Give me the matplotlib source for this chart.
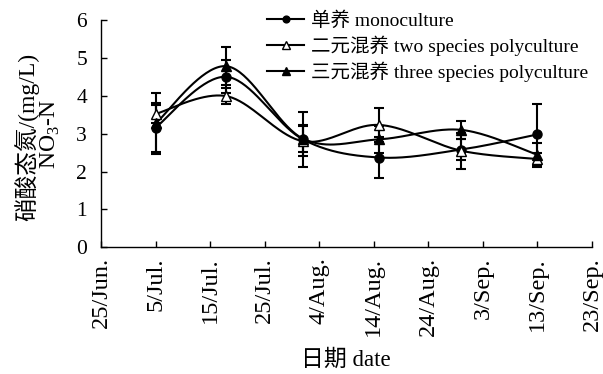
import numpy as np
import matplotlib
matplotlib.use("Agg")
import matplotlib.pyplot as plt
from matplotlib.lines import Line2D

plt.rcParams['font.family'] = ['Liberation Serif', 'Noto Sans CJK SC']
plt.rcParams['mathtext.fontset'] = 'custom'
plt.rcParams['mathtext.rm'] = 'Liberation Serif'

# days since 25 Jun
days = [10, 23, 37, 51, 66, 80]
tick_days = [0, 10, 20, 30, 40, 50, 60, 70, 80, 90]
tick_labels = ["25/Jun.", "5/Jul.", "15/Jul.", "25/Jul.", "4/Aug.", "14/Aug.",
               "24/Aug.", "3/Sep.", "13/Sep.", "23/Sep."]

mono = [3.16, 4.50, 2.85, 2.37, 2.58, 2.98]
mono_err = [0.65, 0.44, 0.73, 0.55, 0.27, 0.80]
two = [3.52, 3.99, 2.80, 3.23, 2.55, 2.33]
two_err = [0.23, 0.22, 0.40, 0.45, 0.48, 0.15]
three = [3.27, 4.78, 2.87, 2.85, 3.10, 2.44]
three_err = [0.80, 0.50, 0.36, 0.35, 0.24, 0.32]

labels = ["单养 monoculture", "二元混养 two species polyculture",
          "三元混养 three species polyculture"]


def smooth(x, y, n=40):
    x = np.asarray(x, float); y = np.asarray(y, float)
    px = np.concatenate([[x[0]], x, [x[-1]]])
    py = np.concatenate([[y[0]], y, [y[-1]]])
    xs, ys = [], []
    for i in range(1, len(px) - 2):
        p0, p1, p2, p3 = (np.array([px[j], py[j]]) for j in range(i - 1, i + 3))
        c1 = p1 + (p2 - p0) / 6
        c2 = p2 - (p3 - p1) / 6
        t = np.linspace(0, 1, n)[:, None]
        b = (1 - t) ** 3 * p1 + 3 * (1 - t) ** 2 * t * c1 + 3 * (1 - t) * t ** 2 * c2 + t ** 3 * p2
        xs.extend(b[:, 0]); ys.extend(b[:, 1])
    return xs, ys


W, H = 603, 374
fig = plt.figure(figsize=(W / 100, H / 100), dpi=100)
ax = fig.add_axes([101 / W, 1 - 247.3 / H, (592 - 101) / W, (247.3 - 20) / H])

styles = [
    (mono, mono_err, dict(marker='o', mfc='black', mec='black', ms=6.5)),
    (two, two_err, dict(marker='^', mfc='white', mec='black', ms=7.5)),
    (three, three_err, dict(marker='^', mfc='black', mec='black', ms=7.5)),
]
handles = []
for (vals, errs, mk), lab in zip(styles, labels):
    sx, sy = smooth(days, vals)
    ax.plot(sx, sy, color='black', lw=1.5, zorder=2)
    ax.errorbar(days, vals, yerr=errs, fmt='none', ecolor='black',
                elinewidth=1.5, capsize=3.5, capthick=1.5, zorder=3)
    ax.plot(days, vals, linestyle='none', color='black', zorder=4, **mk)
    mk2 = dict(mk)
    mk2['ms'] = mk['ms'] * 0.75
    handles.append(Line2D([0], [0], color='black', lw=1.5, label=lab, **mk2))

ax.set_xlim(0, 90)
ax.set_ylim(0, 6)
ax.set_xticks(tick_days)
ax.set_xticklabels(tick_labels, rotation=90, fontsize=17.5)
ax.set_yticks(range(0, 7))
ax.tick_params(axis='y', labelsize=15.5, direction='in', length=4, width=1, pad=10)
ax.tick_params(axis='x', direction='in', length=4, width=1, pad=7)
for s in ['top', 'right']:
    ax.spines[s].set_visible(False)
for s in ['left', 'bottom']:
    ax.spines[s].set_linewidth(1)

fig.text(346 / W, 1 - 360 / H, "日期 date", fontsize=16.5, ha='center', va='center')
fig.text(27 / W, 1 - 137 / H, "硝酸态氮/(mg/L)", fontsize=17, rotation=90,
         ha='center', va='center')
fig.text(50 / W, 1 - 134 / H, "NO$_3$-N", fontsize=17, rotation=90,
         ha='center', va='center')

leg = fig.legend(handles=handles, loc='upper right', bbox_to_anchor=(588 / W, 1 - 11 / H),
                 frameon=False, fontsize=14, handlelength=1.9, handletextpad=0.35,
                 labelspacing=0.3, borderaxespad=0, borderpad=0)

fig.savefig("out.png", dpi=100)
